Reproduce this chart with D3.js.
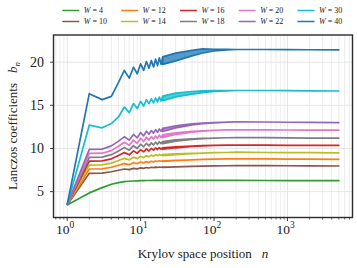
<!DOCTYPE html>
<html>
<head>
<meta charset="utf-8">
<script src="https://cdn.jsdelivr.net/npm/d3@7/dist/d3.min.js"></script>
<style>
  body { margin: 0; background: #fff; }
  text { font-family: "Liberation Serif", "DejaVu Serif", serif; fill: #222; }
</style>
</head>
<body>
<script>
// chart values
var widths = [4, 10, 12, 14, 16, 18, 20, 22, 30, 40]
var colors = ['#2ca02c', '#8c564b', '#ff7f0e', '#bcbd22', '#d62728',
              '#7f7f7f', '#e377c2', '#9467bd', '#17becf', '#1f77b4']

// first Krylov steps, every n (zig-zag part)
var headN = [1, 2, 3, 4, 5, 6, 7, 8, 9, 10, 11, 12, 13, 14, 15, 16, 17, 18, 19, 20]
// later steps: mean value and half height of the even/odd oscillation band
var tailN = [20, 30, 50, 70, 100, 150, 200, 500, 1000, 2000, 5000]

var b4Head  = [3.46, 4.85, 5.46, 5.85, 6.04, 6.15, 6.20, 6.23, 6.25, 6.27, 6.28, 6.29, 6.29, 6.29, 6.30, 6.30, 6.30, 6.30, 6.30, 6.30]
var b10Head = [3.46, 7.12, 7.15, 7.30, 7.48, 7.62, 7.55, 7.70, 7.64, 7.75, 7.70, 7.79, 7.74, 7.82, 7.78, 7.84, 7.80, 7.85, 7.82, 7.85]
var b12Head = [3.46, 7.62, 7.64, 7.82, 8.05, 8.25, 8.12, 8.35, 8.25, 8.43, 8.33, 8.48, 8.38, 8.52, 8.45, 8.55, 8.49, 8.57, 8.52, 8.57]
var b14Head = [3.46, 8.08, 8.10, 8.30, 8.60, 8.85, 8.68, 9.00, 8.82, 9.10, 8.93, 9.18, 9.02, 9.24, 9.10, 9.28, 9.16, 9.31, 9.20, 9.30]
var b16Head = [3.46, 8.54, 8.57, 8.80, 9.18, 9.52, 9.27, 9.72, 9.45, 9.85, 9.60, 9.95, 9.70, 10.02, 9.80, 10.07, 9.88, 10.10, 9.93, 10.08]
var b18Head = [3.46, 8.97, 9.00, 9.28, 9.70, 10.10, 9.80, 10.32, 10.00, 10.50, 10.20, 10.60, 10.30, 10.65, 10.40, 10.72, 10.48, 10.78, 10.56, 10.80]
var b20Head = [3.46, 9.43, 9.45, 9.75, 10.25, 10.72, 10.37, 10.97, 10.60, 11.18, 10.80, 11.30, 10.97, 11.37, 11.08, 11.45, 11.17, 11.53, 11.26, 11.58]
var b22Head = [3.46, 9.89, 9.93, 10.30, 10.85, 11.35, 10.97, 11.62, 11.23, 11.85, 11.46, 12.00, 11.65, 12.08, 11.78, 12.17, 11.88, 12.27, 11.98, 12.33]
var b30Head = [3.46, 12.70, 12.39, 12.89, 13.65, 14.80, 14.16, 15.20, 14.62, 15.47, 14.92, 15.66, 15.20, 15.75, 15.30, 15.85, 15.40, 15.95, 15.50, 16.05]
var b40Head = [3.46, 16.35, 15.66, 16.04, 17.66, 19.04, 18.15, 19.42, 18.66, 19.81, 19.04, 20.08, 19.30, 20.20, 19.45, 20.35, 19.60, 20.50, 19.75, 20.60]

var b4Tail  = [6.30, 6.31, 6.31, 6.31, 6.30, 6.30, 6.30, 6.29, 6.28, 6.28, 6.27]
var b10Tail = [7.83, 7.87, 7.92, 7.95, 7.98, 8.00, 8.02, 8.01, 8.00, 7.98, 7.97]
var b12Tail = [8.53, 8.60, 8.68, 8.73, 8.77, 8.79, 8.80, 8.79, 8.77, 8.76, 8.74]
var b14Tail = [9.24, 9.33, 9.42, 9.47, 9.51, 9.53, 9.54, 9.53, 9.52, 9.51, 9.50]
var b16Tail = [10.00, 10.13, 10.25, 10.31, 10.35, 10.38, 10.39, 10.38, 10.37, 10.36, 10.35]
var b18Tail = [10.68, 10.93, 11.08, 11.15, 11.20, 11.24, 11.26, 11.25, 11.23, 11.21, 11.20]
var b20Tail = [11.43, 11.72, 11.94, 12.03, 12.10, 12.15, 12.17, 12.16, 12.14, 12.13, 12.12]
var b22Tail = [12.15, 12.50, 12.78, 12.90, 12.98, 13.05, 13.08, 13.07, 13.04, 13.02, 13.00]
var b30Tail = [15.80, 16.20, 16.45, 16.58, 16.66, 16.70, 16.72, 16.72, 16.70, 16.68, 16.66]
var b40Tail = [20.18, 20.60, 21.05, 21.30, 21.40, 21.45, 21.47, 21.47, 21.45, 21.44, 21.43]

var b4Osc  = [0, 0, 0, 0, 0, 0, 0, 0, 0, 0, 0]
var b10Osc = [0.02, 0, 0, 0, 0, 0, 0, 0, 0, 0, 0]
var b12Osc = [0.04, 0.02, 0, 0, 0, 0, 0, 0, 0, 0, 0]
var b14Osc = [0.06, 0.04, 0.02, 0, 0, 0, 0, 0, 0, 0, 0]
var b16Osc = [0.08, 0.05, 0.02, 0.01, 0, 0, 0, 0, 0, 0, 0]
var b18Osc = [0.12, 0.08, 0.04, 0.02, 0, 0, 0, 0, 0, 0, 0]
var b20Osc = [0.15, 0.10, 0.05, 0.02, 0.01, 0, 0, 0, 0, 0, 0]
var b22Osc = [0.18, 0.12, 0.06, 0.03, 0.01, 0, 0, 0, 0, 0, 0]
var b30Osc = [0.27, 0.22, 0.15, 0.10, 0.05, 0.02, 0, 0, 0, 0, 0]
var b40Osc = [0.43, 0.45, 0.32, 0.24, 0.10, 0.03, 0, 0, 0, 0, 0]

var heads = [b4Head, b10Head, b12Head, b14Head, b16Head, b18Head, b20Head, b22Head, b30Head, b40Head]
var tails = [b4Tail, b10Tail, b12Tail, b14Tail, b16Tail, b18Tail, b20Tail, b22Tail, b30Tail, b40Tail]
var oscs  = [b4Osc, b10Osc, b12Osc, b14Osc, b16Osc, b18Osc, b20Osc, b22Osc, b30Osc, b40Osc]

var yTicks = [5, 10, 15, 20]
var xTicks = [1, 10, 100, 1000]

var svg = d3.select("body").append("svg").attr("width", 357).attr("height", 268)

var plotL = 53.5, plotR = 352.5, plotT = 35, plotB = 217.5

var x = d3.scaleLog().domain([Math.pow(10, -0.186), Math.pow(10, 3.885)]).range([plotL, plotR])
var y = d3.scaleLinear().domain([2.0, 23.15]).range([plotB, plotT])

// minor ticks between decades
var minor = []
for (let e = -1; e <= 3; e++) {
    for (let k = 2; k <= 9; k++) {
        var v = k * Math.pow(10, e)
        if (v > x.domain()[0] && v < x.domain()[1]) minor.push(v)
    }
}

// grid
var grid = svg.append('g')
grid.selectAll('.gminor').data(minor).enter().append('line')
    .attr('x1', d => x(d)).attr('x2', d => x(d))
    .attr('y1', plotT).attr('y2', plotB)
    .attr('stroke', '#e9e9e9').attr('stroke-width', 0.8)
grid.selectAll('.gmajor').data(xTicks).enter().append('line')
    .attr('x1', d => x(d)).attr('x2', d => x(d))
    .attr('y1', plotT).attr('y2', plotB)
    .attr('stroke', '#e3e3e3').attr('stroke-width', 0.9)
grid.selectAll('.gy').data(yTicks).enter().append('line')
    .attr('x1', plotL).attr('x2', plotR)
    .attr('y1', d => y(d)).attr('y2', d => y(d))
    .attr('stroke', '#e3e3e3').attr('stroke-width', 0.9)

// series
var line = d3.line().x((d, i) => x(headN[i])).y(d => y(d))

for (let s = 0; s < widths.length; s++) {
    var band = tailN.map((n, i) => [n, tails[s][i], oscs[s][i]])
    var area = d3.area()
        .x(d => x(d[0]))
        .y0(d => y(d[1] - d[2]))
        .y1(d => y(d[1] + d[2]))
    svg.append('path')
        .attr('d', area(band))
        .attr('fill', colors[s])
        .attr('fill-opacity', 0.75)
        .attr('stroke', colors[s])
        .attr('stroke-width', 1.7)
        .attr('stroke-linejoin', 'round')

    svg.append('path')
        .attr('d', line(heads[s]))
        .attr('fill', 'none')
        .attr('stroke', colors[s])
        .attr('stroke-width', 1.7)
        .attr('stroke-linejoin', 'round')
}

// frame
svg.append('rect')
    .attr('x', plotL).attr('y', plotT)
    .attr('width', plotR - plotL).attr('height', plotB - plotT)
    .attr('fill', 'none').attr('stroke', '#2b2b2b').attr('stroke-width', 1.4)

// x ticks
svg.selectAll('.xt').data(xTicks).enter().append('line')
    .attr('x1', d => x(d)).attr('x2', d => x(d))
    .attr('y1', plotB).attr('y2', plotB + 3.5)
    .attr('stroke', '#2b2b2b').attr('stroke-width', 0.9)
svg.selectAll('.xm').data(minor).enter().append('line')
    .attr('x1', d => x(d)).attr('x2', d => x(d))
    .attr('y1', plotB).attr('y2', plotB + 2)
    .attr('stroke', '#2b2b2b').attr('stroke-width', 0.7)

var xl = svg.selectAll('.xl').data(xTicks).enter().append('text')
    .attr('x', d => x(d) - 2)
    .attr('y', 234)
    .attr('text-anchor', 'middle')
    .attr('font-size', 13.5)
xl.append('tspan').text('10')
xl.append('tspan').text(d => Math.round(Math.log10(d)))
    .attr('font-size', 9.5).attr('dy', -6)

// y ticks
svg.selectAll('.yt').data(yTicks).enter().append('line')
    .attr('x1', plotL - 3.5).attr('x2', plotL)
    .attr('y1', d => y(d)).attr('y2', d => y(d))
    .attr('stroke', '#2b2b2b').attr('stroke-width', 0.9)
svg.selectAll('.yl').data(yTicks).enter().append('text')
    .attr('x', plotL - 9.5)
    .attr('y', d => y(d) + 4.5)
    .attr('text-anchor', 'end')
    .attr('font-size', 14)
    .text(d => d)

// axis labels
var xlab = svg.append('text')
    .attr('x', 203).attr('y', 258)
    .attr('text-anchor', 'middle')
    .attr('font-size', 13)
xlab.append('tspan').text('Krylov space position')
xlab.append('tspan').text('n').attr('font-style', 'italic').attr('dx', 10)

var ylab = svg.append('text')
    .attr('transform', 'translate(17,126) rotate(-90)')
    .attr('text-anchor', 'middle')
    .attr('font-size', 13)
ylab.append('tspan').text('Lanczos coefficients')
ylab.append('tspan').text('b').attr('font-style', 'italic').attr('dx', 10)
ylab.append('tspan').text('n').attr('font-style', 'italic').attr('font-size', 9).attr('dy', 3)

// legend, 5 columns filled top to bottom
for (let s = 0; s < widths.length; s++) {
    var col = Math.floor(s / 2), row = s % 2
    var lx = 62.3 + col * 58.8, ly = 10.5 + row * 11
    svg.append('line')
        .attr('x1', lx).attr('x2', lx + 17)
        .attr('y1', ly).attr('y2', ly)
        .attr('stroke', colors[s]).attr('stroke-width', 1.5)
    var t = svg.append('text')
        .attr('x', lx + 21.5).attr('y', ly + 2.8)
        .attr('font-size', 8)
    t.append('tspan').text('W').attr('font-style', 'italic')
    t.append('tspan').text(' = ' + widths[s])
}
</script>
</body>
</html>
